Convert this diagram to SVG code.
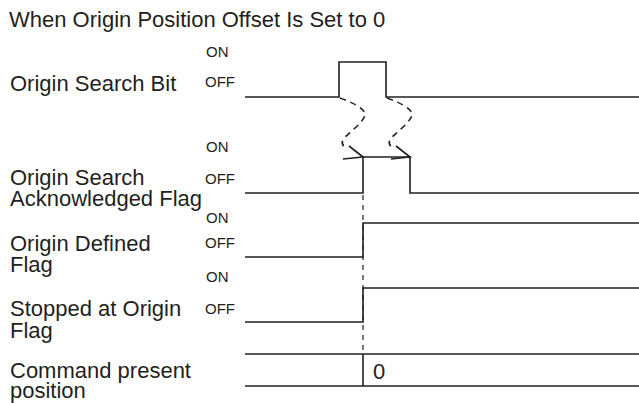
<svg xmlns="http://www.w3.org/2000/svg" width="639" height="403" viewBox="0 0 639 403">
<style>
.lbl{font-family:"Liberation Sans",Arial,sans-serif;font-size:22px;fill:#231f20}
.st{font-family:"Liberation Sans",Arial,sans-serif;font-size:15px;fill:#231f20}
.sig{fill:none;stroke:#231f20;stroke-width:1.6}
.dash{fill:none;stroke:#231f20;stroke-width:1.6;stroke-dasharray:6 5}
.vd{fill:none;stroke:#231f20;stroke-width:1.2;stroke-dasharray:5 5}
.ah{fill:none;stroke:#231f20;stroke-width:1.6}
</style>
<rect width="639" height="403" fill="#fff"/>
<text class="lbl" x="9" y="27">When Origin Position Offset Is Set to 0</text>
<g id="origin-search-bit">
<text class="lbl" x="10" y="91">Origin Search Bit</text>
<text class="st" x="206" y="57">ON</text>
<text class="st" x="205" y="87">OFF</text>
</g>
<g id="origin-search-ack">
<text class="lbl" x="10" y="185">Origin Search</text>
<text class="lbl" x="10" y="206">Acknowledged Flag</text>
<text class="st" x="206" y="152">ON</text>
<text class="st" x="205" y="184">OFF</text>
</g>
<g id="origin-defined">
<text class="lbl" x="10" y="251">Origin Defined</text>
<text class="lbl" x="10" y="272">Flag</text>
<text class="st" x="206" y="223">ON</text>
<text class="st" x="205" y="248">OFF</text>
</g>
<g id="stopped-at-origin">
<text class="lbl" x="10" y="316">Stopped at Origin</text>
<text class="lbl" x="10" y="338">Flag</text>
<text class="st" x="206" y="282">ON</text>
<text class="st" x="205" y="314">OFF</text>
</g>
<g id="command-present-position">
<text class="lbl" x="10" y="378">Command present</text>
<text class="lbl" x="10" y="398">position</text>
<text class="lbl" x="373" y="379">0</text>
</g>
<g id="connectors">
<polyline class="sig" points="245,97 339,97 339,62 386,62 386,97 639,97"/>
<polyline class="sig" points="245,193 363,193 363,157 410,157 410,193 639,193"/>
<polyline class="sig" points="245,257 363,257 363,223 639,223"/>
<polyline class="sig" points="245,322 363,322 363,288 639,288"/>
<line class="sig" x1="245" y1="354" x2="639" y2="354"/>
<line class="sig" x1="245" y1="386" x2="639" y2="386"/>
<line class="sig" x1="363" y1="354" x2="363" y2="386"/>
<line class="vd" x1="363" y1="195" x2="363" y2="354"/>
<path class="dash" d="M340,98 Q362,106 365,113 Q366,118 355,128 L344,138 Q339,145 348,149"/>
<path class="dash" d="M387,98 Q409,106 412,113 Q413,118 402,128 L391,138 Q386,145 395,149"/>
<path class="ah" d="M349,146 L363,157 L343,159"/>
<path class="ah" d="M396,146 L410,157 L391,159"/>
</g>
</svg>
